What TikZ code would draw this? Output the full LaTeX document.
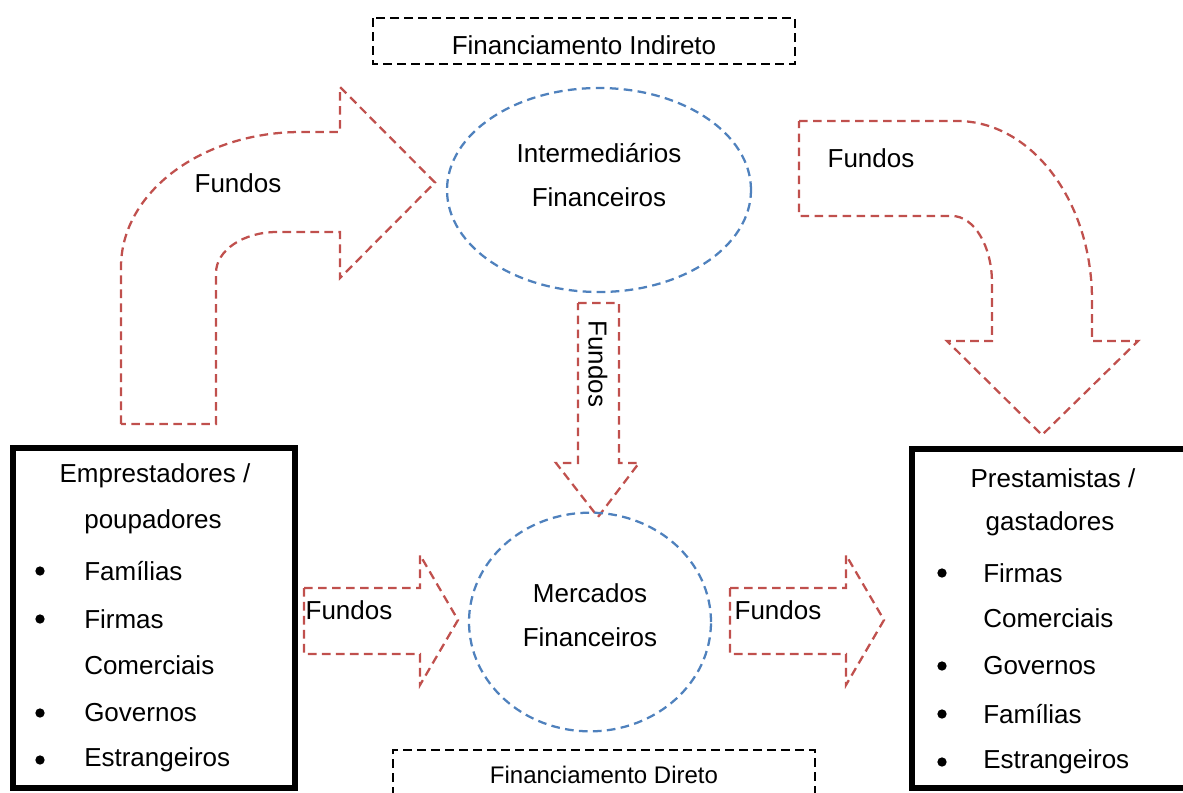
\documentclass[tikz,border=0pt]{standalone}
\usepackage{fontspec}
\setmainfont{Liberation Sans}
\usetikzlibrary{positioning,shapes.geometric}
\definecolor{Ink}{HTML}{000000}
\definecolor{FlowRed}{HTML}{C0504D}
\definecolor{RingBlue}{HTML}{4F81BD}
\tikzset{
  fundo/.style={draw=FlowRed,line width=1.7pt,dash pattern=on 6.5pt off 4pt,line join=miter},
  ring/.style={ellipse,draw=RingBlue,line width=1.7pt,dash pattern=on 6.5pt off 4pt,inner sep=0pt},
  tag/.style={draw=Ink,line width=1.7pt,dash pattern=on 6.5pt off 4pt},
  agent/.style={draw=Ink,line width=3.8pt},
  word/.style={font=\fontsize{19.5}{33}\selectfont,inner sep=0pt,align=center},
  item/.style={word,anchor=west},
  dot/.style={circle,fill=Ink,inner sep=0pt,minimum size=7pt}
}
\begin{document}
\begin{tikzpicture}[x=0.75pt,y=-0.75pt]
  \useasboundingbox (0,0) rectangle (1183,793);
  \clip (0,0) rectangle (1183,793);
  % indireto
  \draw[tag] (373,18) rectangle (795,64);
  \node[word] (indir) at (584,45) {Financiamento Indireto};
  \node[ring,minimum width=228pt,minimum height=153pt] (inter) at (599,190) {};
  \node[word] (intertxt) at (599,175) {Intermediários\\Financeiros};
  % big curved arrows
  \draw[fundo] (121,424) -- (121,267) .. controls (121,192.5) and (201.6,132) .. (301,132)
    -- (340,132) -- (340,87) -- (435,182.5) -- (340,278) -- (340,232) -- (277,232)
    .. controls (243.3,232) and (216,250.4) .. (216,273) -- (216,424) -- cycle;
  \node[word] (fundoA) at (238,183) {Fundos};
  \draw[fundo] (799,121) -- (957,121) .. controls (1031.5,121) and (1092,201.2) .. (1092,300)
    -- (1092,341) -- (1138,341) -- (1042,435) -- (947,341) -- (992,341) -- (992,283)
    .. controls (992,246) and (974,216) .. (952,216) -- (799,216) -- cycle;
  \node[word] (fundoB) at (871,158) {Fundos};
  \draw[fundo] (578,303) -- (619,303) -- (619,463) -- (639,463) -- (598,517)
    -- (556,463) -- (578,463) -- cycle;
  \node[word,rotate=-90] (fundoC) at (598,364) {Fundos};
  % direto
  \node[ring,minimum width=181.5pt,minimum height=164pt] (merc) at (590,622) {};
  \node[word] (merctxt) at (590,615) {Mercados\\Financeiros};
  \foreach \x in {304,730}
    \draw[fundo] (\x,588) -- (\x+116,588) -- (\x+116,555) -- (\x+154,620)
      -- (\x+116,685) -- (\x+116,654) -- (\x,654) -- cycle;
  \node[word] (fundoD) at (349,610) {Fundos};
  \node[word] (fundoE) at (778,610) {Fundos};
  \draw[tag] (393,810) -- (393,750) -- (815,750) -- (815,810);
  \node[word,font=\fontsize{18}{22}\selectfont] (dir) at (604,775) {Financiamento Direto};
  % lenders
  \draw[agent] (13,448) rectangle (295,788);
  \node[word] (lend) at (155,476) {Emprestadores /};
  \node[word] (lend2) at (153,522) {poupadores};
  \foreach \t/\y [count=\i] in {Famílias/571,Firmas/619,Comerciais/665,Governos/713,Estrangeiros/760}
    \node[item] (lend-\i) at (84,\y) {\t};
  \foreach \y in {571,619,713,760} \node[dot] at (40,\y) {};
  % borrowers
  \draw[agent] (912,449) rectangle (1195,788);
  \node[word] (borr) at (1053,478) {Prestamistas /};
  \node[word] (borr2) at (1050,524) {gastadores};
  \foreach \t/\y [count=\i] in {Firmas/573,Comerciais/618,Governos/666,Famílias/714,Estrangeiros/762}
    \node[item] (borr-\i) at (983,\y) {\t};
  \foreach \y in {573,666,714,762} \node[dot] at (942,\y) {};
\end{tikzpicture}
\end{document}
